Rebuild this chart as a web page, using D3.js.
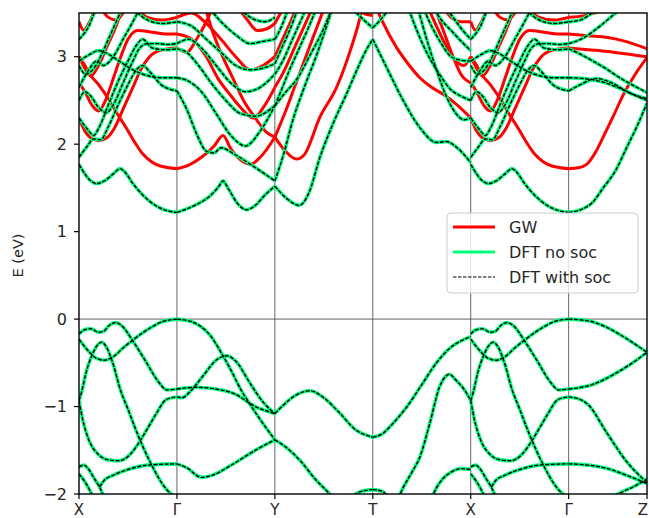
<!DOCTYPE html>
<html>
<head>
<meta charset="utf-8">
<script src="https://cdn.jsdelivr.net/npm/d3@7/dist/d3.min.js"></script>
<style>
  body { margin: 0; background: #fff; }
  text { font-family: "DejaVu Sans", sans-serif; fill: #262626; }
</style>
</head>
<body>
<div id="chart"></div>
<script>
// high-symmetry path
const kLabels = ['X', 'Γ', 'Y', 'T', 'X', 'Γ', 'Z'];
const kTicks = [0, 1, 2, 3, 4, 5, 5.8];
const eTicks = [-2, -1, 0, 1, 2, 3];

// bands per segment, points are [fraction along segment, E in eV]
const dftXG = [
  [[0,-0.17],[0.06,-0.12],[0.12,-0.11],[0.2,-0.15],[0.25,-0.14],[0.31,-0.07],[0.37,-0.04],[0.44,-0.08],[0.55,-0.25],[0.68,-0.48],[0.8,-0.7],[0.9,-0.81],[1,-0.8]],
  [[0,-0.23],[0.1,-0.37],[0.18,-0.45],[0.26,-0.47],[0.35,-0.43],[0.45,-0.33],[0.55,-0.24],[0.7,-0.12],[0.85,-0.03],[1,0]],
  [[0,-0.93],[0.03,-0.82],[0.07,-0.62],[0.13,-0.42],[0.18,-0.31],[0.23,-0.265],[0.28,-0.32],[0.35,-0.52],[0.42,-0.8],[0.5,-1.03],[0.6,-1.32],[0.72,-1.62],[0.88,-1.93],[1,-2.05]],
  [[0,-0.93],[0.04,-1.16],[0.1,-1.38],[0.2,-1.55],[0.3,-1.61],[0.41,-1.62],[0.52,-1.55],[0.62,-1.4],[0.7,-1.25],[0.79,-1.08],[0.89,-0.92],[1,-0.89]],
  [[0,-1.69],[0.05,-1.67],[0.1,-1.72],[0.16,-1.83],[0.21,-1.92],[0.26,-2.05]],
  [[0,-1.77],[0.06,-1.86],[0.12,-1.98],[0.15,-2.05]],
  [[0.21,-1.92],[0.26,-1.84],[0.34,-1.79],[0.5,-1.72],[0.7,-1.67],[1,-1.655]],
  [[0,1.77],[0.06,1.66],[0.12,1.58],[0.18,1.55],[0.26,1.58],[0.35,1.66],[0.42,1.72],[0.47,1.68],[0.55,1.55],[0.65,1.42],[0.78,1.3],[0.9,1.24],[1,1.22]],
  [[0,1.85],[0.08,1.97],[0.15,2.06],[0.22,2.05],[0.3,2.2],[0.4,2.45],[0.5,2.68],[0.58,2.84],[0.65,2.9],[0.72,2.83],[0.85,2.67],[1,2.61]],
  [[0,2.95],[0.1,3.02],[0.2,3.07],[0.3,3.03],[0.41,2.95],[0.55,2.85],[0.68,2.79],[0.85,2.76],[1,2.76]],
  [[0,2.5],[0.06,2.6],[0.12,2.55],[0.2,2.42],[0.28,2.36],[0.35,2.45],[0.45,2.7],[0.55,2.95],[0.62,3.1],[0.7,3.15],[0.8,3.15],[0.9,3.14],[1,3.15]],
  [[0,2.3],[0.08,2.18],[0.15,2.1],[0.2,2.18],[0.3,2.45],[0.4,2.72],[0.5,2.95],[0.58,3.12],[0.65,3.2],[0.75,3.1],[0.88,3.08],[1,3.09]],
  [[0,2.65],[0.1,2.85],[0.18,2.95],[0.25,2.9],[0.35,3.0],[0.45,3.2],[0.55,3.4],[0.62,3.55]],
  [[0,2.9],[0.07,2.8],[0.14,2.85],[0.22,3.0],[0.3,3.2],[0.38,3.4],[0.44,3.55]],
  [[0,3.2],[0.1,3.35],[0.17,3.55]],
  [[0.55,3.55],[0.7,3.42],[0.85,3.38],[1,3.4]]
];
const gwXG = [
  [[0,3.0],[0.05,2.92],[0.11,2.8],[0.2,2.68],[0.31,2.5],[0.4,2.33],[0.48,2.19],[0.57,2.02],[0.65,1.89],[0.74,1.8],[0.83,1.75],[1,1.72]],
  [[0,2.3],[0.06,2.15],[0.12,2.07],[0.2,2.04],[0.28,2.07],[0.36,2.18],[0.45,2.4],[0.55,2.65],[0.63,2.85],[0.72,3.0],[0.85,3.08],[1,3.1]],
  [[0,2.7],[0.06,2.6],[0.13,2.45],[0.2,2.38],[0.27,2.5],[0.35,2.75],[0.42,2.98],[0.5,3.2],[0.6,3.3],[0.75,3.28],[0.9,3.26],[1,3.26]],
  [[0,3.0],[0.07,2.85],[0.12,2.78],[0.2,2.9],[0.28,3.1],[0.36,3.3],[0.43,3.5],[0.47,3.6]],
  [[0,3.4],[0.05,3.3],[0.1,3.38],[0.15,3.5],[0.2,3.6]],
  [[0.2,3.6],[0.3,3.45],[0.38,3.42],[0.45,3.5],[0.5,3.6]],
  [[0.55,3.6],[0.7,3.45],[0.85,3.42],[1,3.45]]
];

const dftGY = [
  [[0,0],[0.15,-0.03],[0.25,-0.09],[0.35,-0.2],[0.45,-0.38],[0.55,-0.58],[0.65,-0.8],[0.75,-0.98],[0.87,-1.18],[1,-1.38]],
  [[0,-0.8],[0.2,-0.78],[0.4,-0.8],[0.58,-0.85],[0.8,-1.0],[1,-1.08]],
  [[0,-0.89],[0.05,-0.9],[0.15,-0.81],[0.28,-0.63],[0.4,-0.47],[0.51,-0.42],[0.6,-0.48],[0.75,-0.74],[0.88,-0.95],[1,-1.08]],
  [[0,-1.655],[0.1,-1.7],[0.25,-1.81],[0.35,-1.79],[0.57,-1.66],[0.8,-1.5],[1,-1.38]],
  [[0,1.22],[0.1,1.26],[0.2,1.31],[0.35,1.42],[0.43,1.52],[0.47,1.58],[0.52,1.5],[0.62,1.32],[0.71,1.25],[0.8,1.3],[0.9,1.42],[1,1.52]],
  [[0,2.61],[0.1,2.4],[0.2,2.12],[0.3,1.92],[0.38,1.9],[0.45,1.96],[0.58,1.89],[0.75,1.77],[1,1.58]],
  [[0,2.76],[0.12,2.72],[0.25,2.6],[0.4,2.35],[0.55,2.1],[0.7,1.98],[0.85,2.15],[1,2.44]],
  [[0,3.09],[0.1,3.05],[0.22,2.9],[0.35,2.7],[0.5,2.5],[0.65,2.35],[0.8,2.32],[1,2.44]],
  [[0,3.15],[0.12,3.2],[0.25,3.1],[0.4,2.9],[0.55,2.7],[0.7,2.6],[0.85,2.65],[1,2.8]],
  [[0,3.4],[0.15,3.35],[0.3,3.2],[0.45,3.05],[0.6,2.9],[0.75,2.85],[0.88,2.87],[1,2.92]],
  [[0.3,3.6],[0.45,3.4],[0.6,3.25],[0.75,3.15],[0.9,3.18],[1,3.2]],
  [[0.6,3.6],[0.75,3.45],[0.9,3.4],[1,3.45]]
];
const gwGY = [
  [[0,1.72],[0.12,1.76],[0.25,1.85],[0.38,1.98],[0.47,2.1],[0.55,1.95],[0.65,1.82],[0.75,1.77],[0.85,1.85],[1,2.08]],
  [[0.28,3.6],[0.36,3.3],[0.44,3.07],[0.56,2.78],[0.68,2.5],[0.8,2.3],[0.91,2.14],[1,2.08]],
  [[0,3.26],[0.15,3.2],[0.3,3.0],[0.42,2.75],[0.54,2.57],[0.65,2.42],[0.78,2.3],[0.9,2.45],[1,2.65]],
  [[0,3.45],[0.15,3.5],[0.3,3.38],[0.45,3.2],[0.6,3.0],[0.75,2.85],[0.88,2.9],[1,3.0]],
  [[0,3.1],[0.1,3.05],[0.2,3.2],[0.3,3.4],[0.38,3.6]],
  [[0.6,3.6],[0.72,3.42],[0.82,3.3],[0.92,3.32],[1,3.38]]
];

const dftYT = [
  [[0,-1.08],[0.1,-0.97],[0.2,-0.88],[0.36,-0.82],[0.5,-0.9],[0.65,-1.06],[0.83,-1.27],[1,-1.35]],
  [[0,-1.38],[0.13,-1.48],[0.26,-1.62],[0.42,-1.84],[0.56,-2.0],[0.62,-2.08]],
  [[0.76,-2.05],[0.88,-1.97],[1,-1.95]],
  [[0,1.52],[0.12,1.38],[0.25,1.3],[0.35,1.45],[0.46,1.85],[0.6,2.25],[0.73,2.57],[0.85,2.88],[0.93,3.07],[1,3.2]],
  [[0,1.58],[0.08,1.85],[0.19,2.3],[0.31,2.68],[0.43,3.03],[0.6,3.6]],
  [[0,2.44],[0.1,2.58],[0.235,2.76],[0.36,3.02],[0.49,3.3],[0.6,3.6]],
  [[0,2.44],[0.06,2.6],[0.15,2.85],[0.25,3.1],[0.35,3.35],[0.44,3.6]],
  [[0,2.8],[0.08,2.95],[0.18,3.2],[0.28,3.45],[0.34,3.6]],
  [[0,2.92],[0.07,3.1],[0.15,3.3],[0.25,3.6]],
  [[0,3.2],[0.07,3.35],[0.15,3.6]],
  [[0.75,3.6],[0.88,3.45],[1,3.33]]
];
const gwYT = [
  [[0,2.08],[0.1,1.93],[0.22,1.83],[0.3,1.88],[0.46,2.31],[0.63,2.65],[0.77,3.07],[0.87,3.45],[0.9,3.6]],
  [[0,2.08],[0.1,2.35],[0.2,2.65],[0.3,2.95],[0.4,3.25],[0.5,3.55],[0.53,3.65]],
  [[0,2.65],[0.1,2.85],[0.2,3.1],[0.3,3.35],[0.4,3.6]],
  [[0,3.0],[0.08,3.2],[0.16,3.4],[0.24,3.6]],
  [[0,3.38],[0.06,3.5],[0.12,3.6]],
  [[0.8,3.6],[0.9,3.5],[1,3.47]]
];

const dftTX = [
  [[0,-1.35],[0.1,-1.31],[0.2,-1.2],[0.35,-1.0],[0.5,-0.75],[0.65,-0.5],[0.8,-0.32],[0.9,-0.25],[1,-0.2]],
  [[0.26,-2.05],[0.3,-1.95],[0.4,-1.75],[0.48,-1.58],[0.58,-1.2],[0.68,-0.78],[0.74,-0.66],[0.78,-0.63],[0.85,-0.7],[0.93,-0.8],[1,-0.93]],
  [[0.6,-2.05],[0.65,-1.93],[0.72,-1.82],[0.8,-1.75],[0.9,-1.71],[1,-1.72]],
  [[0,-1.95],[0.1,-1.97],[0.16,-2.05]],
  [[0,3.2],[0.14,2.88],[0.31,2.5],[0.48,2.19],[0.65,2.02],[0.75,2.03],[0.86,1.96],[1,1.79]],
  [[0,3.33],[0.1,3.45],[0.2,3.6]],
  [[0.35,3.6],[0.45,3.3],[0.55,3.05],[0.68,2.8],[0.8,2.62],[0.9,2.55],[1,2.5]],
  [[0.5,3.6],[0.6,3.35],[0.7,3.15],[0.8,3.0],[0.9,2.96],[1,2.95]],
  [[0.6,3.6],[0.7,3.42],[0.8,3.3],[0.9,3.18],[1,3.07]],
  [[0.72,3.6],[0.82,3.45],[0.92,3.3],[1,3.2]],
  [[0.45,3.6],[0.55,3.2],[0.65,2.85],[0.75,2.55],[0.85,2.35],[0.93,2.28],[1,2.3]]
];
const gwTX = [
  [[0.02,3.6],[0.1,3.4],[0.24,3.11],[0.36,2.92],[0.48,2.76],[0.6,2.65],[0.72,2.57],[0.86,2.45],[1,2.3]],
  [[0.55,3.6],[0.65,3.35],[0.75,3.12],[0.85,2.95],[0.93,2.9],[1,3.0]],
  [[0.7,3.6],[0.8,3.45],[0.9,3.4],[1,3.4]],
  [[0.62,3.6],[0.72,3.3],[0.82,3.0],[0.9,2.8],[1,2.7]]
];

const dftGZ = [
  [[0,0],[0.25,-0.02],[0.5,-0.1],[0.75,-0.23],[1,-0.38]],
  [[0,-0.8],[0.3,-0.75],[0.6,-0.62],[0.8,-0.51],[1,-0.38]],
  [[0,-0.89],[0.12,-0.91],[0.25,-0.98],[0.48,-1.29],[0.74,-1.63],[1,-1.87]],
  [[0,-1.655],[0.25,-1.67],[0.5,-1.71],[0.75,-1.79],[1,-1.88]],
  [[0.53,-2.05],[0.65,-1.99],[0.82,-1.92],[1,-1.83]],
  [[0,1.22],[0.15,1.25],[0.3,1.33],[0.44,1.5],[0.6,1.7],[0.74,1.96],[0.88,2.22],[1,2.47]],
  [[0,2.61],[0.15,2.68],[0.35,2.75],[0.55,2.7],[0.75,2.6],[1,2.5]],
  [[0,2.76],[0.2,2.75],[0.44,2.71],[0.65,2.64],[0.85,2.56],[1,2.52]],
  [[0,3.09],[0.15,3.03],[0.31,2.95],[0.5,2.85],[0.65,2.76],[0.85,2.66],[1,2.59]],
  [[0,3.15],[0.2,3.22],[0.4,3.35],[0.6,3.5],[0.75,3.6]],
  [[0,3.4],[0.15,3.42],[0.3,3.5],[0.45,3.6]]
];
const gwGZ = [
  [[0,1.72],[0.12,1.73],[0.23,1.77],[0.35,1.92],[0.44,2.08],[0.57,2.32],[0.7,2.57],[0.85,2.8],[1,2.99]],
  [[0,3.1],[0.25,3.08],[0.5,3.06],[0.75,3.03],[1,3.0]],
  [[0,3.26],[0.25,3.24],[0.5,3.22],[0.75,3.17],[1,3.09]],
  [[0,3.45],[0.2,3.47],[0.4,3.52],[0.6,3.6]]
];

const segments = [
  {dft: dftXG, gw: gwXG}, {dft: dftGY, gw: gwGY}, {dft: dftYT, gw: gwYT},
  {dft: dftTX, gw: gwTX}, {dft: dftXG, gw: gwXG}, {dft: dftGZ, gw: gwGZ}
];

const width = 649, height = 518;
const margin = {top: 13, right: 2, bottom: 24, left: 79};

const svg = d3.select('#chart')
  .append('svg')
  .attr('width', width)
  .attr('height', height);

const x = d3.scaleLinear().domain([0, 5.8]).range([margin.left, width - margin.right]);
const y = d3.scaleLinear().domain([-2, 3.5]).range([height - margin.bottom, margin.top]);

svg.append('clipPath').attr('id', 'clip')
  .append('rect')
  .attr('x', x(0)).attr('y', y(3.5))
  .attr('width', x(5.8) - x(0)).attr('height', y(-2) - y(3.5));

// grid at high-symmetry points and Fermi level
svg.append('g').selectAll('line')
  .data(kTicks.slice(1, -1))
  .enter().append('line')
  .attr('x1', d => x(d)).attr('x2', d => x(d))
  .attr('y1', y(3.5)).attr('y2', y(-2))
  .style('stroke', '#555').style('stroke-width', 0.9);

svg.append('line')
  .attr('x1', x(0)).attr('x2', x(5.8))
  .attr('y1', y(0)).attr('y2', y(0))
  .style('stroke', '#555').style('stroke-width', 0.9);

function bands(key) {
  return segments.flatMap((s, i) => s[key].map(b =>
    b.map(([t, e]) => [kTicks[i] + t * (kTicks[i + 1] - kTicks[i]), e])));
}

const line = d3.line()
  .x(d => x(d[0]))
  .y(d => y(d[1]))
  .curve(d3.curveMonotoneX);

const plot = svg.append('g').attr('clip-path', 'url(#clip)');

plot.append('g').selectAll('path')
  .data(bands('gw'))
  .enter().append('path')
  .attr('d', line)
  .style('fill', 'none').style('stroke', '#ff0000').style('stroke-width', 3);

const dft = bands('dft');
plot.append('g').selectAll('path')
  .data(dft)
  .enter().append('path')
  .attr('d', line)
  .style('fill', 'none').style('stroke', '#00ff7f').style('stroke-width', 3.6);

plot.append('g').selectAll('path')
  .data(dft)
  .enter().append('path')
  .attr('d', line)
  .style('fill', 'none').style('stroke', '#000').style('stroke-width', 1.4)
  .style('stroke-dasharray', '4,1.5');

// frame
svg.append('rect')
  .attr('x', x(0)).attr('y', y(3.5))
  .attr('width', x(5.8) - x(0)).attr('height', y(-2) - y(3.5))
  .style('fill', 'none').style('stroke', '#000').style('stroke-width', 1.4);

// y axis
const yAxis = svg.append('g');
yAxis.selectAll('line').data(eTicks).enter().append('line')
  .attr('x1', x(0) - 5).attr('x2', x(0))
  .attr('y1', d => y(d)).attr('y2', d => y(d))
  .style('stroke', '#000').style('stroke-width', 1.2);
yAxis.selectAll('text').data(eTicks).enter().append('text')
  .attr('x', x(0) - 12).attr('y', d => y(d))
  .attr('dy', '0.36em')
  .attr('text-anchor', 'end')
  .style('font-size', '16px')
  .text(d => d3.format('d')(d));

svg.append('text')
  .attr('transform', `translate(23,${(y(3.5) + y(-2)) / 2 + 2}) rotate(-90)`)
  .attr('text-anchor', 'middle')
  .style('font-size', '14.5px')
  .text('E (eV)');

// x axis
const xAxis = svg.append('g');
xAxis.selectAll('line').data(kTicks).enter().append('line')
  .attr('x1', d => x(d)).attr('x2', d => x(d))
  .attr('y1', y(-2)).attr('y2', y(-2) + 5)
  .style('stroke', '#000').style('stroke-width', 1.2);
xAxis.selectAll('text').data(kTicks).enter().append('text')
  .attr('x', (d, i) => i === kTicks.length - 1 ? x(d) - 4 : x(d))
  .attr('y', 515)
  .attr('text-anchor', 'middle')
  .style('font-size', '15px')
  .text((d, i) => kLabels[i]);

// legend
const legendItems = [
  {name: 'GW', color: '#ff0000', width: 3, dash: null},
  {name: 'DFT no soc', color: '#00ff7f', width: 3, dash: null},
  {name: 'DFT with soc', color: '#000', width: 1.1, dash: '3.5,1.5'}
];
const legend = svg.append('g').attr('transform', 'translate(447,213)');
legend.append('rect')
  .attr('width', 191).attr('height', 80).attr('rx', 4)
  .style('fill', '#fff').style('fill-opacity', 0.8)
  .style('stroke', '#ccc').style('stroke-width', 1);
legendItems.forEach((d, i) => {
  const ly = 14 + i * 25;
  legend.append('line')
    .attr('x1', 6).attr('x2', 48).attr('y1', ly).attr('y2', ly)
    .style('stroke', d.color).style('stroke-width', d.width)
    .style('stroke-dasharray', d.dash);
  legend.append('text')
    .attr('x', 62).attr('y', ly).attr('dy', '0.36em')
    .style('font-size', '16px')
    .text(d.name);
});
</script>
</body>
</html>
